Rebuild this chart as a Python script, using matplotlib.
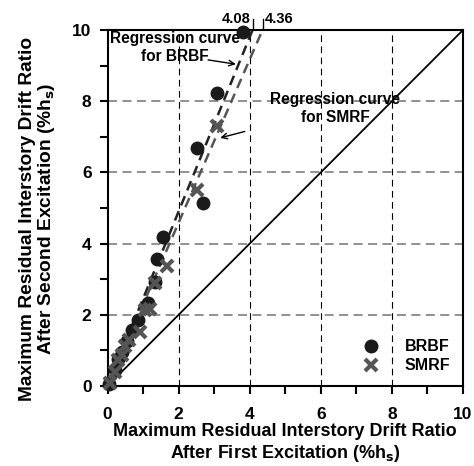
import numpy as np
import matplotlib
import matplotlib.pyplot as plt

matplotlib.use('Agg')

plt.rcParams['font.family'] = 'sans-serif'
plt.rcParams['font.sans-serif'] = ['Liberation Sans']
plt.rcParams['font.weight'] = 'bold'
plt.rcParams['mathtext.default'] = 'bf'

# Data
brbf_x = [0.05, 0.22, 0.30, 0.42, 0.55, 0.68, 0.85, 1.15, 1.34, 1.38, 1.57,
          2.51, 2.69, 3.07, 3.82]
brbf_y = [0.05, 0.45, 0.75, 0.95, 1.25, 1.57, 1.85, 2.32, 2.93, 3.56, 4.19,
          6.68, 5.15, 8.24, 9.95]
smrf_x = [0.07, 0.21, 0.30, 0.42, 0.48, 0.60, 0.91, 1.05, 1.20, 1.34, 1.68,
          2.51, 3.07]
smrf_y = [0.08, 0.40, 0.73, 0.88, 1.12, 1.30, 1.52, 2.13, 2.15, 2.88, 3.38,
          5.50, 7.30]
reg_x_at_top = {'BRBF': 4.08, 'SMRF': 4.36}
ticks = [0, 2, 4, 6, 8, 10]
grid_vals = [2, 4, 6, 8]

fig = plt.figure(figsize=(4.74, 4.66), dpi=100)
ax = fig.add_axes([0.2268, 0.1717, 0.75, 0.7639])
ax.set_xlim(0, 10)
ax.set_ylim(0, 10)

# grid: vertical thin black dashes, horizontal gray dashes
for g in grid_vals:
    ax.axvline(g, color='black', lw=0.8, dashes=(6, 4), zorder=1)
    ax.axhline(g, color='#888888', lw=1.3, dashes=(5, 3), zorder=1)

# 1:1 line
ax.plot([0, 10], [0, 10], color='black', lw=1.3, zorder=2)

# regression lines
ax.plot([0, reg_x_at_top['BRBF']], [0, 10], color='#222222', lw=1.8,
        dashes=(4, 2.5), zorder=3, clip_on=False)
ax.plot([0, reg_x_at_top['SMRF']], [0, 10], color='#555555', lw=1.8,
        dashes=(4, 2.5), zorder=3, clip_on=False)

ax.plot(brbf_x, brbf_y, 'o', color='#1a1a1a', ms=9, zorder=4,
        clip_on=False, label='BRBF')
ax.plot(smrf_x, smrf_y, 'x', color='#555555', ms=9, mew=3, zorder=5,
        clip_on=False, label='SMRF')

# small marks at the top for regression intercepts
for v in reg_x_at_top.values():
    ax.plot([v, v], [10.05, 10.3], color='black', lw=1, clip_on=False)
ax.text(reg_x_at_top['BRBF'] - 0.06, 10.12, '4.08', ha='right', va='bottom',
        fontsize=10.5, fontweight='bold')
ax.text(reg_x_at_top['SMRF'] + 0.06, 10.12, '4.36', ha='left', va='bottom',
        fontsize=10.5, fontweight='bold')

ax.text(1.885, 9.5, 'Regression curve\nfor BRBF', ha='center', va='center',
        fontsize=11.2, fontweight='bold', linespacing=1.25)
ax.annotate('', xy=(3.61, 9.04), xytext=(2.83, 9.16),
            arrowprops=dict(arrowstyle='->', color='black', lw=1,
                            shrinkA=0, shrinkB=0))
ax.text(6.4, 7.8, 'Regression curve\nfor SMRF', ha='center', va='center',
        fontsize=11.2, fontweight='bold', linespacing=1.25)
ax.annotate('', xy=(3.17, 6.97), xytext=(3.86, 7.15),
            arrowprops=dict(arrowstyle='->', color='black', lw=1,
                            shrinkA=0, shrinkB=0))

ax.set_xticks(ticks)
ax.set_yticks(ticks)
ax.set_xticks([1, 3, 5, 7, 9], minor=True)
ax.set_yticks([1, 3, 5, 7, 9], minor=True)
ax.tick_params(which='both', direction='out', length=5.5, width=1.5,
               labelsize=12.5)
ax.tick_params(axis='x', which='both', pad=9.5)
ax.tick_params(axis='y', which='both', pad=6)
for s in ax.spines.values():
    s.set_linewidth(1.5)

ax.set_xlabel('Maximum Residual Interstory Drift Ratio\n'
              'After First Excitation (%h$_\\mathbf{s}$)',
              fontsize=13, fontweight='bold', labelpad=1, linespacing=1.2)
ax.set_ylabel('Maximum Residual Interstory Drift Ratio\n'
              'After Second Excitation (%h$_\\mathbf{s}$)',
              fontsize=13.8, fontweight='bold', linespacing=0.95)
ax.yaxis.set_label_coords(-0.143, 0.47)

leg = ax.legend(loc='lower right', bbox_to_anchor=(1.0, 0.0), frameon=False,
                fontsize=11.5, handletextpad=1.1, labelspacing=0.25,
                borderaxespad=0.4)

fig.savefig('out.png', dpi=100)
